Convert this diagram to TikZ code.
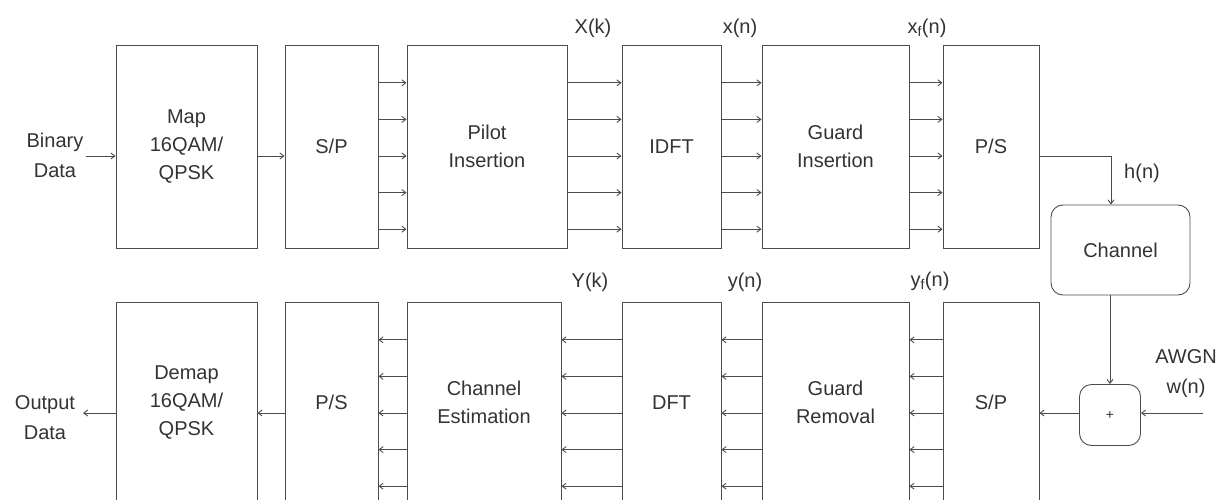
\documentclass[tikz,border=0pt]{standalone}
\usepackage{fontspec}
\setmainfont{Liberation Sans}
\usetikzlibrary{arrows.meta}
\tikzset{
  block/.style={
    draw=black!70,
    line width=0.9pt,
    inner sep=0pt,
    align=center,
    text=black!80,
    font=\fontsize{20}{28}\selectfont
  },
  txrow/.style={block, minimum height=203pt},
  rxrow/.style={block, minimum height=201pt},
  rbox/.style={block, rounded corners=12pt},
  lbl/.style={font=\fontsize{20}{30}\selectfont, text=black!80, inner sep=0pt, align=center},
  link/.style={draw=black!70, line width=0.9pt, -{Straight Barb[length=4pt,width=6pt]}},
}
\newcommand{\ParLinks}[3]{%
  \foreach \dy in {-73.2,-36.6,0,36.6,73.2} {
    \coordinate (pl) at (0,{#3+(\dy)});
    \draw[link] (#1 |- pl) -- (#2 |- pl);
  }
}

\begin{document}
\begin{tikzpicture}[x=1pt, y=-1pt]
  \useasboundingbox (0,0) rectangle (1225,500);
  % transmitter
  \node[txrow, minimum width=141pt] (map) at (186.5,146.5) {Map\\16QAM/\\QPSK};
  \node[txrow, minimum width=93pt] (sp) at (331.5,146.5) {S/P};
  \node[txrow, minimum width=160pt] (pilot) at (487,146.5) {Pilot\\Insertion};
  \node[txrow, minimum width=99pt] (idft) at (671.5,146.5) {IDFT};
  \node[txrow, minimum width=147pt] (guard) at (835.5,146.5) {Guard\\Insertion};
  \node[txrow, minimum width=96pt] (ps) at (991,146.5) {P/S};
  % receiver
  \node[rxrow, minimum width=141pt] (demap) at (186.5,402.5) {Demap\\16QAM/\\QPSK};
  \node[rxrow, minimum width=93pt] (ps2) at (331.5,402.5) {P/S};
  \node[rxrow, minimum width=154pt] (chest) at (484,402.5) {Channel\\Estimation};
  \node[rxrow, minimum width=99pt] (dft) at (671.5,402.5) {DFT};
  \node[rxrow, minimum width=147pt] (grem) at (835.5,402.5) {Guard\\Removal};
  \node[rxrow, minimum width=96pt] (sp2) at (991,402.5) {S/P};
  % channel
  \node[rbox, minimum width=139pt, minimum height=90pt] (chan) at (1120.5,250) {Channel};
  \node[rbox, minimum width=61pt, minimum height=61pt, font=\fontsize{14}{14}\selectfont] (plus) at (1110,415) {+};

  % labels
  \node[lbl] (lbin) at (55,155) {Binary\\Data};
  \node[lbl] (lout) at (45,418) {Output\\Data};
  \node[lbl] (lXk) at (593,28) {X(k)};
  \node[lbl] (lxn) at (740,28) {x(n)};
  \node[lbl] (lxf) at (927,28) {x\textsubscript{f}(n)};
  \node[lbl] (lYk) at (590,282) {Y(k)};
  \node[lbl] (lyn) at (745,282) {y(n)};
  \node[lbl] (lyf) at (930,281) {y\textsubscript{f}(n)};
  \node[lbl] (lhn) at (1142,173) {h(n)};
  \node[lbl] (lawgn) at (1186,374) {AWGN\\w(n)};

  \coordinate (rowA) at (0,156);
  \coordinate (rowB) at (0,413);
  \coordinate (bin) at (86,156);
  \coordinate (outd) at (83,413);
  \coordinate (hturn) at (1111,156);
  \coordinate (awgn) at (1203,413);

  % transmitter links
  \draw[link] (bin) -- (map.west |- rowA);
  \draw[link] (map.east |- rowA) -- (sp.west |- rowA);
  \ParLinks{sp.east}{pilot.west}{156}
  \ParLinks{pilot.east}{idft.west}{156}
  \ParLinks{idft.east}{guard.west}{156}
  \ParLinks{guard.east}{ps.west}{156}
  \draw[link] (ps.east |- rowA) -- (hturn) -- (hturn |- chan.north);

  % channel and noise
  \draw[link] (chan.south -| plus) -- (plus.north);
  \draw[link] (awgn) -- (plus.east |- awgn);
  \draw[link] (plus.west |- rowB) -- (sp2.east |- rowB);

  % receiver links
  \ParLinks{sp2.west}{grem.east}{413}
  \ParLinks{grem.west}{dft.east}{413}
  \ParLinks{dft.west}{chest.east}{413}
  \ParLinks{chest.west}{ps2.east}{413}
  \draw[link] (ps2.west |- rowB) -- (demap.east |- rowB);
  \draw[link] (demap.west |- rowB) -- (outd);
\end{tikzpicture}
\end{document}
